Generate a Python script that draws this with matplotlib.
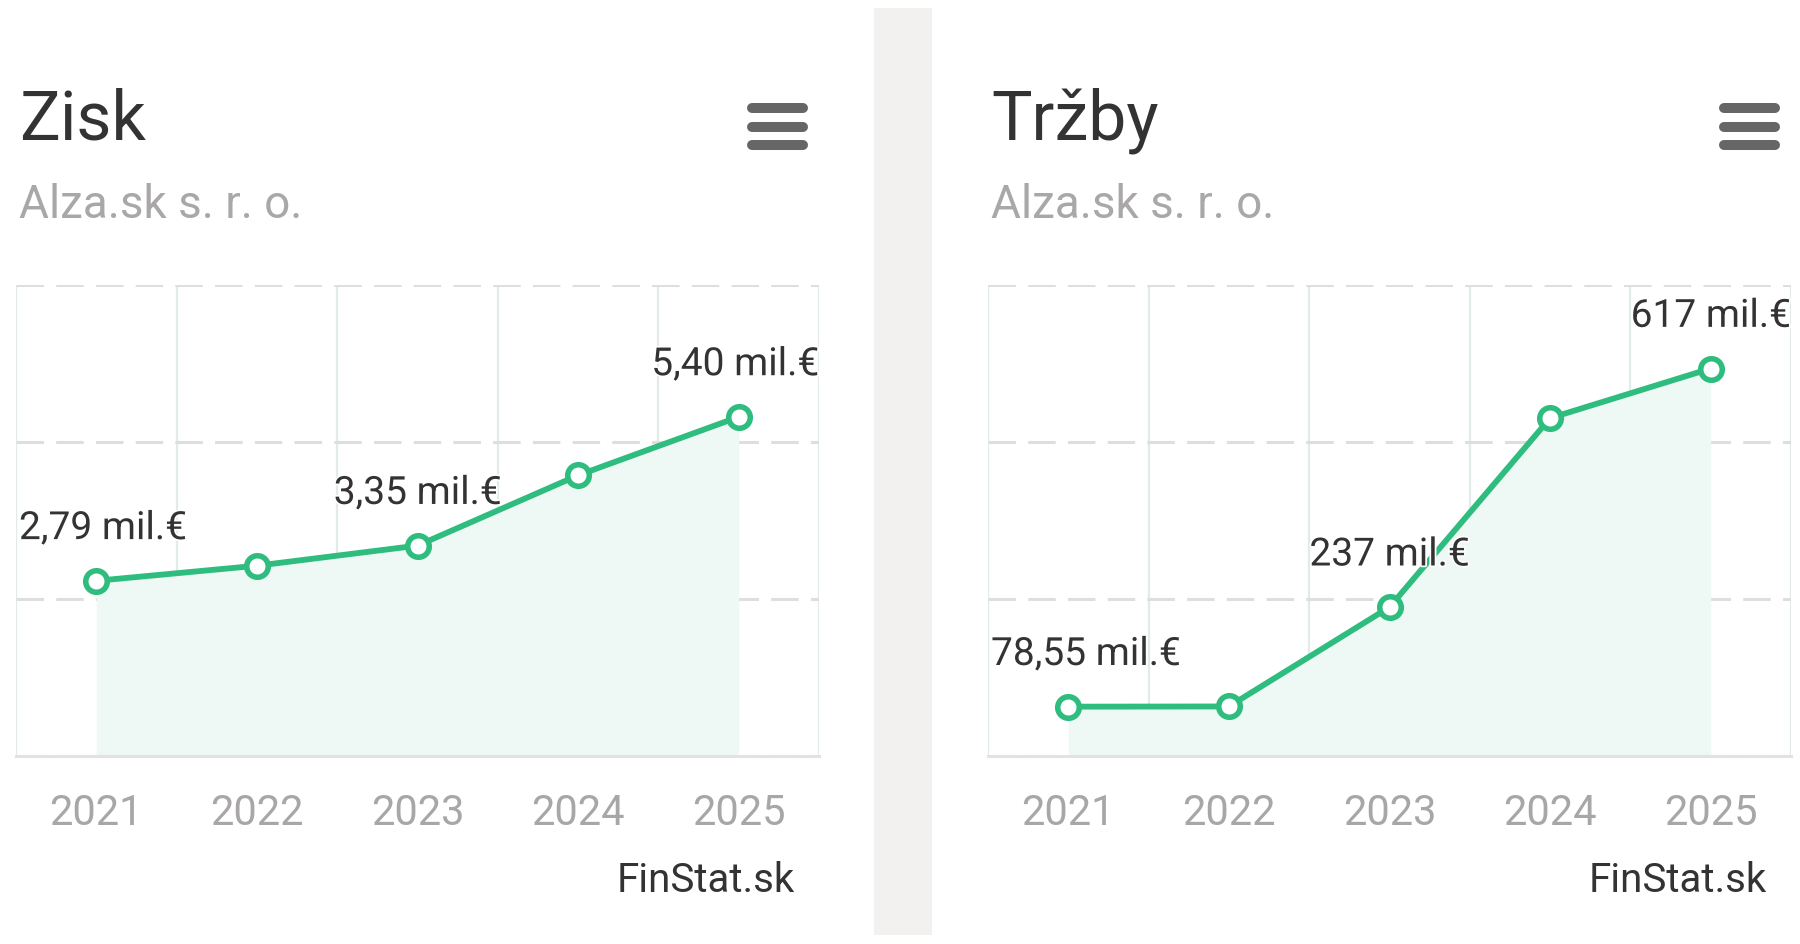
import matplotlib
matplotlib.use("Agg")
import matplotlib.pyplot as plt
from matplotlib.lines import Line2D
from matplotlib.patches import Rectangle
import matplotlib.patheffects as pe

plt.rcParams["font.family"] = ["Roboto", "DejaVu Sans"]

years = ["2021", "2022", "2023", "2024", "2025"]

# values in mil. EUR
zisk = [2.79, 3.03, 3.35, 4.47, 5.40]
trzby = [78.55, 78.9, 237, 538, 617]

# which points get a value label
labeled = [0, 2, 4]

company = "Alza.sk s. r. o."
credit = "FinStat.sk"

GREEN = "#2fbd7f"
FILL = "#eef8f4"
W, H, DPI = 1800, 945, 100


def fmt(v):
    s = f"{v:.2f}" if v < 100 else f"{v:.0f}"
    return s.replace(".", ",") + " mil.€"


fig = plt.figure(figsize=(W / DPI, H / DPI), dpi=DPI)

# grey separator between the two cards
fig.add_artist(Rectangle((874 / W, 1 - 936 / H), 58 / W, 927 / H,
                         transform=fig.transFigure, color="#f2f1f0", lw=0))


def panel(x0, title, values, ymax, ystep):
    left = x0 / W
    ax = fig.add_axes([left, 1 - 757 / H, 803 / W, 471 / H])
    xs = list(range(len(years)))

    ax.fill_between(xs, values, 0, color=FILL, lw=0, zorder=1)
    ax.plot(xs, values, color=GREEN, lw=4.2, zorder=3,
            marker="o", ms=15.5, mfc="white", mec=GREEN, mew=4)

    ax.set_xlim(-0.5, len(years) - 0.5)
    ax.set_ylim(0, ymax)
    ax.set_yticks([i * ystep for i in range(int(round(ymax / ystep)) + 1)])
    ax.set_xticks(xs)
    ax.set_xticks([i - 0.5 for i in range(len(years) + 1)], minor=True)
    ax.set_xticklabels(years)
    ax.set_yticklabels([])

    ax.grid(axis="y", which="major", color="#dedede", lw=2.2,
            linestyle=(0, (9, 4)))
    ax.grid(axis="x", which="minor", color="#e2ebe9", lw=1.6)
    ax.set_axisbelow(True)

    for s in ["top", "left", "right"]:
        ax.spines[s].set_visible(False)
    ax.spines["bottom"].set_color("#e2e2e2")
    ax.spines["bottom"].set_linewidth(2.2)
    ax.spines["bottom"].set_zorder(2)

    ax.tick_params(axis="x", which="both", length=0, pad=26,
                   labelsize=30, labelcolor="#a8a6a6")
    ax.tick_params(axis="y", length=0)
    ax.set_facecolor("none")

    anns = []
    for i in labeled:
        a = ax.annotate(fmt(values[i]), (xs[i], values[i]), xytext=(0, 30),
                        textcoords="offset points", ha="center",
                        va="baseline", fontsize=28, color="#333333",
                        zorder=5)
        a.set_path_effects([pe.withStroke(linewidth=2.5, foreground="white")])
        anns.append(a)

    # title, subtitle, menu icon, credit
    fig.text((x0 + 3) / W, 1 - 140 / H, title, fontsize=49,
             color="#333333", va="baseline")
    fig.text((x0 + 3) / W, 1 - 218 / H, company, fontsize=33,
             color="#a9a7a7", va="baseline")
    for yy in [109, 127.5, 146]:
        fig.add_artist(Line2D([(x0 + 736) / W, (x0 + 787) / W],
                              [1 - yy / H, 1 - yy / H],
                              transform=fig.transFigure, color="#666666",
                              lw=7.2, solid_capstyle="round"))
    fig.text((x0 + 779) / W, 1 - 892 / H, credit, fontsize=29,
             color="#333333", ha="right", va="baseline")
    return ax, anns


axes = [panel(16, "Zisk", zisk, 7.5, 2.5),
        panel(988, "Tržby", trzby, 750, 250)]

# keep edge labels inside the plot area, like the original
fig.canvas.draw()
r = fig.canvas.get_renderer()
for ax, anns in axes:
    box = ax.get_window_extent(r)
    for a in anns:
        bb = a.get_window_extent(r)
        dx = 0
        if bb.x0 < box.x0 + 3:
            dx = box.x0 + 3 - bb.x0
        elif bb.x1 > box.x1:
            dx = box.x1 - bb.x1
        if dx:
            ox, oy = a.xyann
            a.xyann = (ox + dx * 72 / DPI, oy)

fig.savefig("out.png", dpi=DPI, facecolor="white")
